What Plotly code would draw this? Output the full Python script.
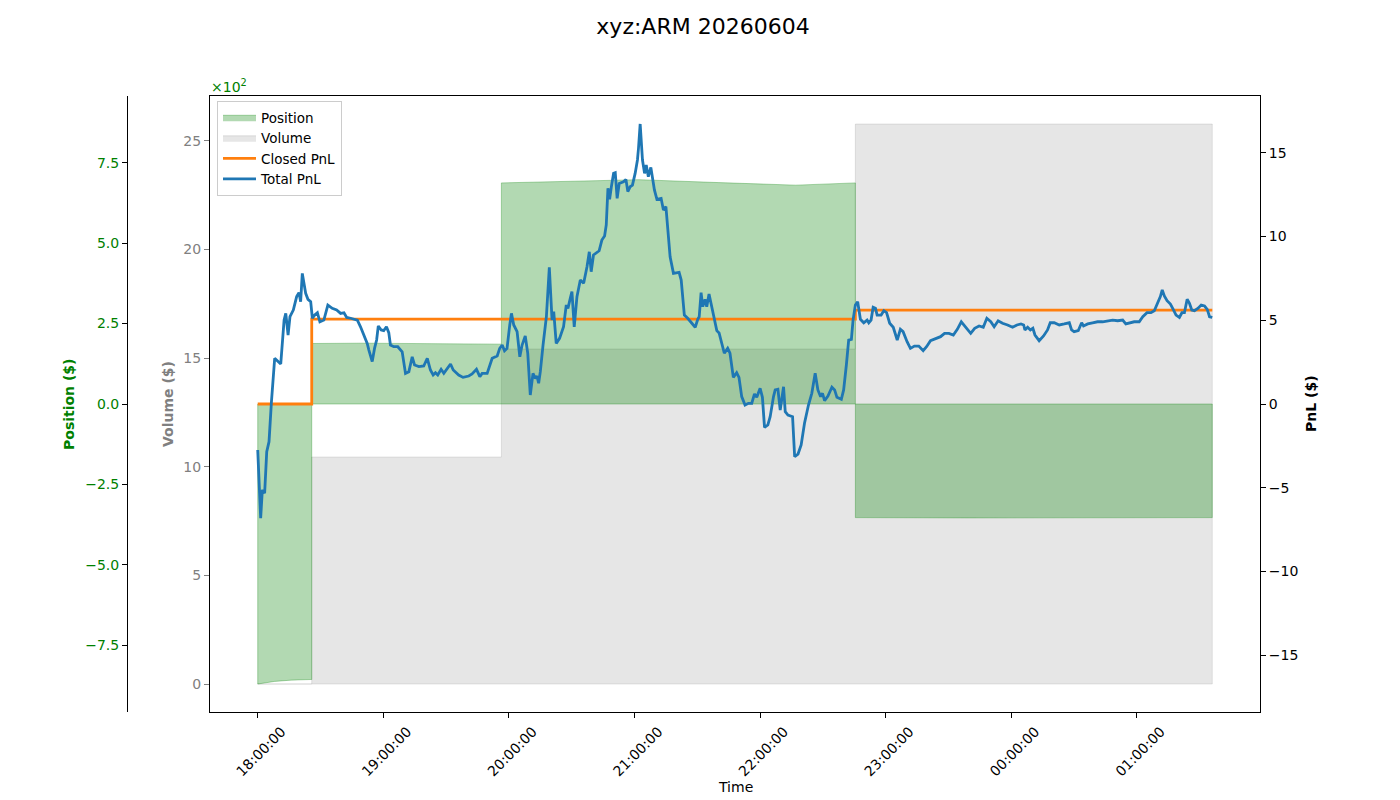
import pandas as pd
import plotly.graph_objects as go

START = pd.Timestamp("2026-06-04 18:00:00")
END_MIN = 456.0

# Position ($) — minutes since 18:00, values in dollars
pos_minutes = [0, 8, 16, 25.8, 25.8, 50, 80, 116.4, 116.4, 150, 182, 220, 257, 285.5, 285.5, 340, 400, 456]
pos_values = [-870, -862, -858, -856, 188, 189, 188, 186, 687, 692, 697, 688, 680, 687, -353, -354, -353, -353]

# Volume ($) — step series
vol_minutes = [0, 25.8, 116.4, 285.5]
vol_values = [0, 10.45, 15.42, 25.78]

# Closed PnL ($) — step series
closed_minutes = [0, 25.8, 285.5, 456]
closed_values = [0, 5.07, 5.61, 5.61]

# Total PnL ($)
pnl_minutes = [
    0.0, 1.4, 2.2, 3.3, 4.3, 5.4, 6.5, 8.1, 11.0, 12.6, 13.4, 14.5, 15.4, 17.0, 18.6, 19.7, 20.5, 21.3, 22.9, 24.0,
    25.3, 26.1, 27.2, 28.5, 29.7, 31.6, 33.5, 35.6, 37.7, 39.6, 41.2, 42.5, 44.4, 46.3, 47.6, 49.1, 50.7, 52.3, 53.1, 54.7,
    55.8, 56.8, 57.6, 59.0, 60.2, 61.5, 62.6, 63.4, 65.0, 66.9, 69.0, 70.6, 72.2, 73.8, 74.9, 77.0, 79.3, 81.0, 82.5, 83.8,
    84.9, 86.0, 87.6, 88.9, 92.1, 93.4, 96.0, 98.1, 100.8, 102.4, 104.5, 106.1, 107.2, 109.6, 112.0, 114.4, 115.6, 116.8, 117.9, 119.1,
    120.4, 121.2, 122.3, 123.9, 125.2, 126.3, 127.8, 129.0, 130.2, 131.5, 132.6, 133.4, 134.2, 135.0, 136.3, 137.9, 139.3, 140.6, 141.4, 142.6,
    144.2, 146.1, 147.4, 148.2, 149.3, 150.1, 151.2, 152.5, 154.1, 155.7, 157.3, 158.4, 159.3, 160.4, 163.1, 164.4, 165.7, 166.5, 167.3, 168.1,
    168.9, 170.0, 170.8, 171.7, 172.7, 174.7, 175.9, 176.8, 177.9, 179.0, 180.3, 181.4, 181.9, 182.7, 183.8, 184.8, 185.6, 186.6, 187.8, 188.6,
    189.5, 190.7, 192.7, 193.8, 195.0, 197.0, 198.6, 201.3, 202.3, 203.8, 205.4, 207.4, 209.0, 210.2, 210.9, 211.8, 212.6, 213.7, 214.5, 215.6,
    216.9, 218.2, 219.3, 220.4, 222.0, 222.9, 224.5, 225.6, 227.2, 228.8, 229.9, 231.2, 232.8, 234.4, 236.0, 237.3, 238.4, 240.0, 241.1, 242.1,
    243.7, 244.8, 246.4, 247.2, 248.5, 249.6, 250.4, 251.2, 252.0, 253.3, 255.5, 256.5, 258.1, 259.6, 261.2, 263.1, 264.7, 266.3, 267.6, 268.9,
    269.8, 270.8, 272.4, 274.3, 275.6, 276.7, 278.8, 279.9, 281.2, 282.3, 283.6, 284.4, 285.5, 286.6, 287.9, 289.5, 291.1, 291.9, 293.0, 294.0,
    295.1, 295.9, 297.8, 299.1, 300.4, 301.9, 303.6, 305.5, 307.0, 308.3, 310.2, 311.8, 313.7, 315.8, 317.9, 319.5, 321.4, 323.8, 326.2, 328.1,
    330.2, 332.3, 334.2, 336.1, 338.2, 340.6, 342.5, 344.6, 346.6, 348.3, 350.2, 351.8, 353.7, 355.8, 358.2, 360.6, 362.7, 364.6, 365.9, 366.5,
    367.8, 369.1, 370.3, 371.3, 373.3, 375.4, 377.3, 378.6, 380.5, 382.9, 385.3, 387.7, 388.8, 390.0, 392.0, 393.6, 394.5, 396.5, 398.8, 401.2,
    403.6, 406.0, 408.4, 410.8, 413.2, 414.7, 416.8, 418.7, 421.1, 422.8, 424.8, 426.7, 428.3, 429.9, 431.2, 432.1, 433.1, 434.4, 436.0, 437.1,
    438.7, 440.3, 441.5, 442.7, 444.0, 445.1, 446.2, 447.5, 449.1, 450.7, 452.3, 453.6, 454.7, 456.0,
]
total_pnl = [
    -2.75, -6.82, -5.13, -5.33, -2.85, -2.25, 0.04, 2.73, 2.39, 5.01, 5.41, 4.12, 5.21, 5.61, 6.41, 6.65, 6.11, 7.80, 6.61, 6.25,
    6.11, 5.12, 5.31, 5.45, 4.91, 5.01, 5.91, 5.71, 5.61, 5.41, 5.45, 5.17, 5.12, 5.06, 5.01, 4.61, 4.12, 3.62, 3.22, 2.53,
    3.32, 3.82, 4.66, 4.42, 4.38, 4.61, 4.26, 3.52, 3.42, 3.42, 3.12, 1.83, 1.93, 2.82, 2.33, 2.23, 2.27, 2.73, 2.03, 1.73,
    1.87, 1.73, 2.07, 1.83, 2.39, 2.03, 1.73, 1.59, 1.67, 1.79, 2.07, 1.63, 1.83, 1.83, 2.73, 2.87, 3.32, 3.52, 3.18, 3.32,
    4.72, 5.41, 4.72, 4.32, 2.82, 3.52, 4.06, 3.02, 0.54, 1.83, 1.53, 1.67, 1.24, 1.93, 3.52, 5.21, 8.16, 5.01, 5.51, 3.62,
    3.92, 4.61, 5.91, 5.71, 6.31, 6.71, 4.61, 6.41, 7.40, 7.21, 8.20, 9.09, 7.90, 8.90, 9.15, 9.79, 10.03, 10.69, 12.88, 12.22,
    12.94, 13.77, 13.81, 12.28, 13.17, 13.27, 13.41, 12.68, 12.97, 13.07, 13.77, 14.57, 15.27, 16.72, 14.57, 13.77, 14.27, 13.57, 14.13, 13.37,
    12.78, 12.22, 12.28, 11.58, 11.78, 8.79, 7.80, 7.86, 7.40, 5.31, 5.12, 4.82, 4.58, 5.06, 5.21, 6.65, 5.81, 6.25, 5.81, 6.57,
    5.81, 5.12, 4.38, 4.24, 3.42, 3.03, 3.32, 3.03, 1.59, 1.87, 1.59, 0.44, -0.06, 0.04, 0.04, 0.60, 0.40, 0.94, 0.40, -1.39,
    -1.25, -0.76, 0.44, 0.84, 0.88, -0.36, 0.34, 1.03, -0.46, -0.66, -0.76, -3.15, -2.99, -2.45, -1.15, -0.06, 0.64, 1.83, 0.84, 0.44,
    0.64, 0.20, 0.48, 1.00, 0.84, 0.40, 0.28, 0.84, 2.33, 3.82, 3.86, 5.01, 5.91, 6.11, 5.06, 4.85, 5.01, 4.85, 5.01, 5.77,
    5.71, 5.31, 5.31, 5.57, 5.45, 4.82, 4.58, 3.82, 4.46, 4.32, 3.72, 3.32, 3.46, 3.46, 3.18, 3.42, 3.78, 3.92, 4.02, 4.22,
    4.22, 4.12, 4.46, 4.91, 4.58, 4.22, 4.52, 4.66, 4.58, 5.12, 4.91, 4.61, 4.97, 4.82, 4.72, 4.58, 4.72, 4.78, 4.72, 4.42,
    4.58, 4.42, 4.52, 4.12, 3.78, 4.06, 4.42, 4.85, 4.85, 4.72, 4.78, 4.85, 4.42, 4.32, 4.38, 4.85, 4.66, 4.78, 4.85, 4.91,
    4.91, 4.97, 5.01, 4.97, 5.01, 4.78, 4.85, 4.91, 4.91, 5.21, 5.45, 5.45, 5.57, 6.01, 6.41, 6.81, 6.45, 6.17, 5.97, 5.71,
    5.31, 5.17, 5.45, 5.45, 6.25, 6.01, 5.61, 5.57, 5.71, 5.91, 5.85, 5.65, 5.21, 5.17,
]

hour_ticks = ["2026-06-04 18:00", "2026-06-04 19:00", "2026-06-04 20:00", "2026-06-04 21:00",
              "2026-06-04 22:00", "2026-06-04 23:00", "2026-06-05 00:00", "2026-06-05 01:00"]
hour_labels = ["18:00:00", "19:00:00", "20:00:00", "21:00:00", "22:00:00", "23:00:00", "00:00:00", "01:00:00"]
pos_ticks = [-750, -500, -250, 0, 250, 500, 750]
pos_labels = ["\u22127.5", "\u22125.0", "\u22122.5", "0.0", "2.5", "5.0", "7.5"]
vol_ticks = [0, 5, 10, 15, 20, 25]
pnl_ticks = [-15, -10, -5, 0, 5, 10, 15]
pnl_labels = ["\u221215", "\u221210", "\u22125", "0", "5", "10", "15"]


def to_time(mins):
    return list(START + pd.to_timedelta(mins, unit="min"))


FONT = "DejaVu Sans"
fig = go.Figure()

# Volume polygon (step)
vx = to_time(vol_minutes + [END_MIN, END_MIN, 0])
vy = vol_values + [vol_values[-1], 0, 0]
fig.add_trace(go.Scatter(x=vx, y=vy, mode="lines", line=dict(shape="hv", color="rgba(128,128,128,0.2)", width=1),
                         fill="toself", fillcolor="rgba(128,128,128,0.2)", name="Volume", yaxis="y", legendrank=2))

# Position polygon
px_ = to_time([0] + pos_minutes + [END_MIN, 0])
py_ = [0] + pos_values + [0, 0]
fig.add_trace(go.Scatter(x=px_, y=py_, mode="lines", line=dict(color="rgba(0,128,0,0.3)", width=1),
                         fill="toself", fillcolor="rgba(0,128,0,0.3)", name="Position", yaxis="y2", legendrank=1))

fig.add_trace(go.Scatter(x=to_time(closed_minutes), y=closed_values, mode="lines",
                         line=dict(shape="hv", color="#ff7f0e", width=2.8), name="Closed PnL", yaxis="y3", legendrank=3))
fig.add_trace(go.Scatter(x=to_time(pnl_minutes), y=total_pnl, mode="lines",
                         line=dict(color="#1f77b4", width=2.8), name="Total PnL", yaxis="y3", legendrank=4))

L, R, T, B = 127, 140, 96, 88
W = 1400 - L - R
H = 800 - T - B
x0 = (210 - L) / W

xr = to_time([-22.8, END_MIN + 22.8])
tickfont = dict(family=FONT, size=14, color="black")

fig.update_layout(
    width=1400, height=800,
    margin=dict(l=L, r=R, t=T, b=B),
    paper_bgcolor="white", plot_bgcolor="white",
    font=dict(family=FONT, size=14, color="black"),
    title=dict(text="xyz:ARM 20260604", x=(700 - L + 3) / W, xref="paper", xanchor="center", y=1 - 26 / 800,
               yref="container", yanchor="middle", font=dict(family=FONT, size=22, color="black")),
    showlegend=True,
    legend=dict(x=(217 - L) / W, y=(712 - 101) / H, xanchor="left", yanchor="top",
                bgcolor="rgba(255,255,255,0.8)", bordercolor="#cccccc", borderwidth=1,
                font=dict(family=FONT, size=13.5, color="black"), tracegroupgap=0, itemwidth=33),
    xaxis=dict(domain=[x0, 1], type="date", range=xr, tickvals=hour_ticks, ticktext=hour_labels, tickangle=-45,
               ticklabelshift=24,
               showgrid=False, zeroline=False, showline=True, linecolor="black", linewidth=1, mirror=True,
               ticks="outside", ticklen=5, tickcolor="black", tickfont=tickfont),
    yaxis=dict(range=[-1.289, 27.07], tickvals=vol_ticks, showgrid=False, zeroline=False, showline=True,
               linecolor="black", linewidth=1, ticks="outside", ticklen=5, tickcolor="gray",
               tickfont=dict(family=FONT, size=14, color="gray"), side="left", anchor="x"),
    yaxis2=dict(range=[-957, 957], tickvals=pos_ticks, ticktext=pos_labels, overlaying="y", anchor="free", position=0,
                side="left", showgrid=False, zeroline=False, showline=True, linecolor="black", linewidth=1,
                ticks="outside", ticklen=5, tickcolor="black", tickfont=dict(family=FONT, size=14, color="green")),
    yaxis3=dict(range=[-18.39, 18.39], tickvals=pnl_ticks, ticktext=pnl_labels, overlaying="y", anchor="x", side="right",
                showgrid=False, zeroline=False, showline=True, linecolor="black", linewidth=1,
                ticks="outside", ticklen=5, tickcolor="black", tickfont=tickfont),
    annotations=[
        dict(text="<b>Position ($)</b>", xref="paper", yref="paper", x=(69 - L) / W, y=0.5, textangle=-90,
             showarrow=False, xanchor="center", yanchor="middle", font=dict(family=FONT, size=14, color="green")),
        dict(text="<b>Volume ($)</b>", xref="paper", yref="paper", x=(168 - L) / W, y=0.5, textangle=-90,
             showarrow=False, xanchor="center", yanchor="middle", font=dict(family=FONT, size=14, color="gray")),
        dict(text="<b>PnL ($)</b>", xref="paper", yref="paper", x=(1311 - L) / W, y=0.5, textangle=-90,
             showarrow=False, xanchor="center", yanchor="middle", font=dict(family=FONT, size=14, color="black")),
        dict(text="Time", xref="paper", yref="paper", x=(735 - L) / W, y=(712 - 787) / H,
             showarrow=False, xanchor="center", yanchor="middle", font=dict(family=FONT, size=14, color="black")),
        dict(text="\u00d710<sup>2</sup>", xref="paper", yref="paper", x=(209 - L) / W, y=(712 - 86) / H,
             showarrow=False, xanchor="left", yanchor="middle", font=dict(family=FONT, size=14, color="green")),
    ],
)

fig.write_html("out.html")
